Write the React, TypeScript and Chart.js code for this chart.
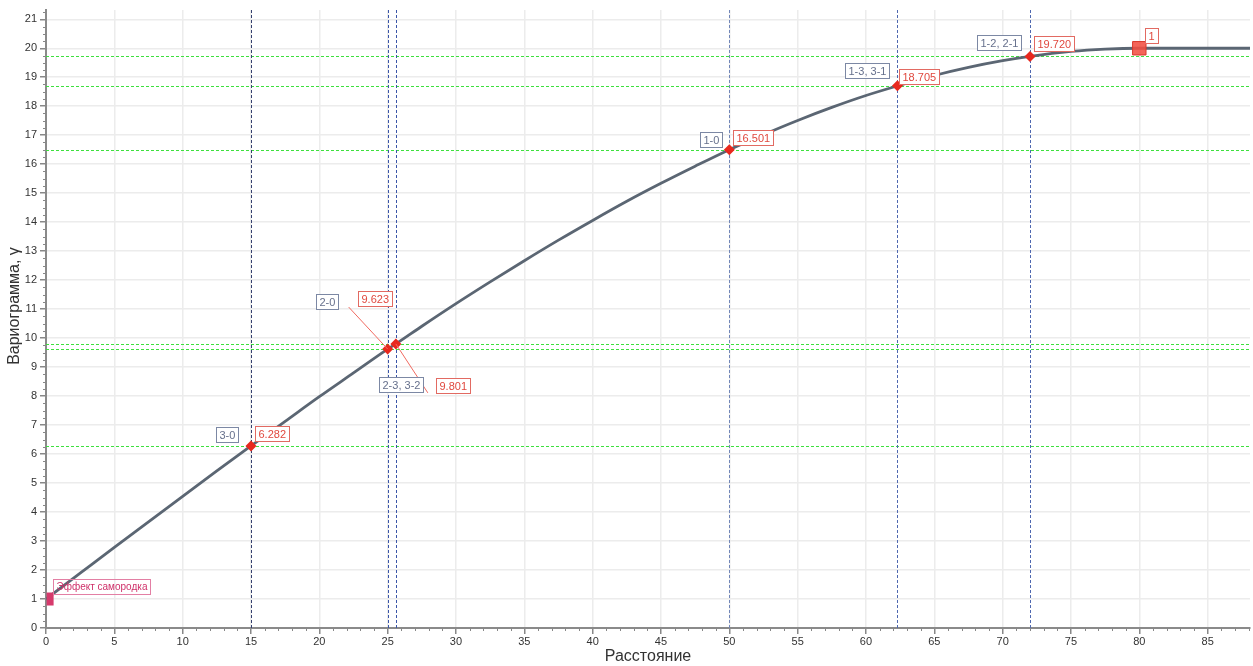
import React, { useEffect, useRef } from "react";
import { Chart, registerables } from "chart.js";
Chart.register(...registerables);

// ---- data ----
const curveX = [0, 2.5, 5, 7.5, 10, 12.5, 15, 17.5, 20, 22.5, 25, 25.6, 27.5, 30, 32.5, 35, 37.5, 40, 42.5, 45, 47.5, 50, 52.5, 55, 57.5, 60, 62.3, 65, 67.5, 70, 72, 75, 77.5, 80, 88.1];
const curveY = [1.0, 1.89, 2.78, 3.66, 4.54, 5.42, 6.28, 7.13, 7.98, 8.8, 9.62, 9.8, 10.41, 11.19, 11.94, 12.67, 13.38, 14.06, 14.72, 15.34, 15.93, 16.5, 17.02, 17.51, 17.96, 18.37, 18.7, 19.06, 19.34, 19.57, 19.72, 19.89, 19.97, 20.0, 20.0];

const pointX = [15, 25, 25.6, 50, 62.3, 72];
const pointY = [6.282, 9.623, 9.801, 16.501, 18.705, 19.72];
const pairLabels = ["3-0", "2-0", "2-3, 3-2", "1-0", "1-3, 3-1", "1-2, 2-1"];
const valueLabels = ["6.282", "9.623", "9.801", "16.501", "18.705", "19.720"];

const sillX = [80];
const sillY = [20];
const sillLabels = ["1"];

const nuggetX = [0.3];
const nuggetY = [1];
const nuggetLabels = ["Эффект самородка"];

const xTitle = "Расстояние";
const yTitle = "Вариограмма, γ";

// ---- styles / layout ----
const FONT = '"Liberation Sans", Arial, sans-serif';
const vLineColors = ["#34406e", "#3a55a8", "#3a55a8", "#7186b8", "#4f68b0", "#4f68b0"];
// label layout per point: gray [mode, dx, dy], red [dx, dy]
const grayPos: [string, number, number][] = [
  ["r", -13, -19], ["r", -50, -55], ["l", -17, 33], ["r", -7, -18], ["r", -8, -23], ["r", -9, -21],
];
const redPos: [number, number][] = [[4, -20], [-30, -58], [40, 34], [4, -20], [2, -17], [4, -20]];

function measure(ctx: CanvasRenderingContext2D, text: string, size: number) {
  ctx.font = size + "px " + FONT;
  return Math.ceil(ctx.measureText(text).width) + 6;
}
function box(ctx: CanvasRenderingContext2D, text: string, left: number, top: number, tc: string, bc: string, size = 11, fill = true) {
  const w = measure(ctx, text, size);
  const h = 15;
  const l = Math.round(left) + 0.5;
  const t = Math.round(top) + 0.5;
  ctx.setLineDash([]);
  if (fill) {
    ctx.fillStyle = "#ffffff";
    ctx.fillRect(l, t, w, h);
  }
  ctx.strokeStyle = bc;
  ctx.lineWidth = 1;
  ctx.strokeRect(l, t, w, h);
  ctx.font = size + "px " + FONT;
  ctx.fillStyle = tc;
  ctx.textAlign = "left";
  ctx.textBaseline = "middle";
  ctx.fillText(text, l + 3, t + h / 2 + 0.5);
}

const overlay = {
  id: "overlay",
  beforeDatasetsDraw(chart: any) {
    const { ctx, chartArea: a, scales } = chart;
    const x = scales.x, y = scales.y;
    ctx.save();
    ctx.beginPath();
    ctx.rect(a.left, a.top, a.right - a.left, a.bottom - a.top);
    ctx.clip();
    ctx.setLineDash([3, 2]);
    ctx.lineWidth = 1.2;
    ctx.strokeStyle = "#3ee03e";
    pointY.forEach((v) => {
      const py = Math.round(y.getPixelForValue(v)) + 0.5;
      ctx.beginPath();
      ctx.moveTo(a.left, py);
      ctx.lineTo(a.right, py);
      ctx.stroke();
    });
    ctx.lineWidth = 1;
    pointX.forEach((v, i) => {
      const px = Math.round(x.getPixelForValue(v)) + 0.5;
      ctx.strokeStyle = vLineColors[i];
      ctx.beginPath();
      ctx.moveTo(px, a.top);
      ctx.lineTo(px, a.bottom);
      ctx.stroke();
    });
    ctx.restore();

    // minor ticks
    ctx.save();
    ctx.strokeStyle = "#888";
    ctx.lineWidth = 1;
    ctx.setLineDash([]);
    for (let v = 1; v <= 88; v++) {
      if (v % 5 === 0) continue;
      const px = Math.round(x.getPixelForValue(v)) + 0.5;
      ctx.beginPath();
      ctx.moveTo(px, a.bottom);
      ctx.lineTo(px, a.bottom + 3);
      ctx.stroke();
    }
    for (let k = 1; k <= 85; k++) {
      if (k % 4 === 0) continue;
      const py = Math.round(y.getPixelForValue(k * 0.25)) + 0.5;
      if (py < a.top) continue;
      ctx.beginPath();
      ctx.moveTo(a.left - 3, py);
      ctx.lineTo(a.left, py);
      ctx.stroke();
    }
    ctx.restore();

    // y title
    ctx.save();
    ctx.translate(15, 306);
    ctx.rotate(-Math.PI / 2);
    ctx.font = "16px " + FONT;
    ctx.fillStyle = "#333";
    ctx.textAlign = "center";
    ctx.textBaseline = "middle";
    ctx.fillText(yTitle, 0, 0);
    ctx.restore();
  },
  afterDatasetsDraw(chart: any) {
    const { ctx, scales } = chart;
    const x = scales.x, y = scales.y;
    ctx.save();
    // nugget marker
    nuggetX.forEach((v, i) => {
      const px = x.getPixelForValue(v);
      const py = y.getPixelForValue(nuggetY[i]);
      ctx.fillStyle = "#d63a6c";
      ctx.fillRect(px - 3.5, py - 6.5, 7, 13);
      box(ctx, nuggetLabels[i], px + 3, py - 20, "#cf3069", "#e37fa4", 10, false);
    });
    // leader lines
    ctx.strokeStyle = "#f06a60";
    ctx.lineWidth = 1;
    {
      const px = x.getPixelForValue(pointX[1]);
      const py = y.getPixelForValue(pointY[1]);
      ctx.beginPath();
      ctx.moveTo(px - 39, py - 42);
      ctx.lineTo(px, py);
      ctx.stroke();
      const qx = x.getPixelForValue(pointX[2]);
      const qy = y.getPixelForValue(pointY[2]);
      ctx.beginPath();
      ctx.moveTo(qx, qy);
      ctx.lineTo(qx + 32, qy + 49);
      ctx.stroke();
    }
    pointX.forEach((v, i) => {
      const px = x.getPixelForValue(v);
      const py = y.getPixelForValue(pointY[i]);
      const g = grayPos[i];
      const gw = measure(ctx, pairLabels[i], 11);
      const gl = g[0] === "r" ? px + g[1] - gw : px + g[1];
      box(ctx, pairLabels[i], gl, py + g[2], "#66708c", "#7c88a4");
      const r = redPos[i];
      box(ctx, valueLabels[i], px + r[0], py + r[1], "#e0483e", "#e26a62");
    });
    sillX.forEach((v, i) => {
      const px = x.getPixelForValue(v);
      const py = y.getPixelForValue(sillY[i]);
      box(ctx, sillLabels[i], px + 6, py - 20, "#e0483e", "#e26a62");
    });
    ctx.restore();
  },
};

export default function App() {
  const ref = useRef<HTMLCanvasElement>(null);
  useEffect(() => {
    document.body.style.margin = "0";
    const canvas = ref.current!;
    const chart = new Chart(canvas, {
      type: "line",
      data: {
        datasets: [
          {
            type: "scatter",
            data: pointX.map((v, i) => ({ x: v, y: pointY[i] })),
            pointStyle: "rectRot",
            pointRadius: 5.5,
            backgroundColor: "#e8281e",
            borderColor: "#e8281e",
            borderWidth: 0,
          } as any,
          {
            type: "scatter",
            data: sillX.map((v, i) => ({ x: v, y: sillY[i] })),
            pointStyle: "rect",
            pointRadius: 9.5,
            backgroundColor: "rgba(242,80,66,0.88)",
            borderColor: "#d9382c",
            borderWidth: 1,
          } as any,
          {
            type: "line",
            data: curveX.map((v, i) => ({ x: v, y: curveY[i] })),
            borderColor: "#5b6673",
            borderWidth: 2.8,
            pointRadius: 0,
            cubicInterpolationMode: "monotone",
            fill: false,
          } as any,
        ],
      },
      options: {
        responsive: false,
        animation: false,
        devicePixelRatio: 1,
        layout: { autoPadding: false, padding: { top: 10, right: 3, left: 0, bottom: 0 } },
        plugins: { legend: { display: false }, tooltip: { enabled: false } },
        scales: {
          x: {
            type: "linear",
            min: 0,
            max: 88.1,
            afterFit: (s: any) => { s.height = 38; },
            ticks: { stepSize: 5, includeBounds: false, color: "#333", font: { family: FONT, size: 11 }, padding: 1, maxRotation: 0 },
            grid: { color: "#ececec", lineWidth: 1.5, tickColor: "#888", tickLength: 6 },
            border: { color: "#8a8a8a", width: 2 },
            title: { display: true, text: xTitle, color: "#333", font: { family: FONT, size: 16 }, padding: 0 },
          },
          y: {
            type: "linear",
            min: 0,
            max: 21.32,
            afterFit: (s: any) => { s.width = 46; },
            ticks: { stepSize: 1, includeBounds: false, color: "#333", font: { family: FONT, size: 11 }, padding: 3 },
            grid: { color: "#ececec", lineWidth: 1.5, tickColor: "#888", tickLength: 6 },
            border: { color: "#8a8a8a", width: 2 },
            title: { display: false },
          },
        },
      },
      plugins: [overlay],
    } as any);
    return () => chart.destroy();
  }, []);
  return (
    <div style={{ width: 1253, height: 666, background: "#fff" }}>
      <canvas ref={ref} width={1253} height={666} style={{ width: 1253, height: 666, display: "block" }} />
    </div>
  );
}
